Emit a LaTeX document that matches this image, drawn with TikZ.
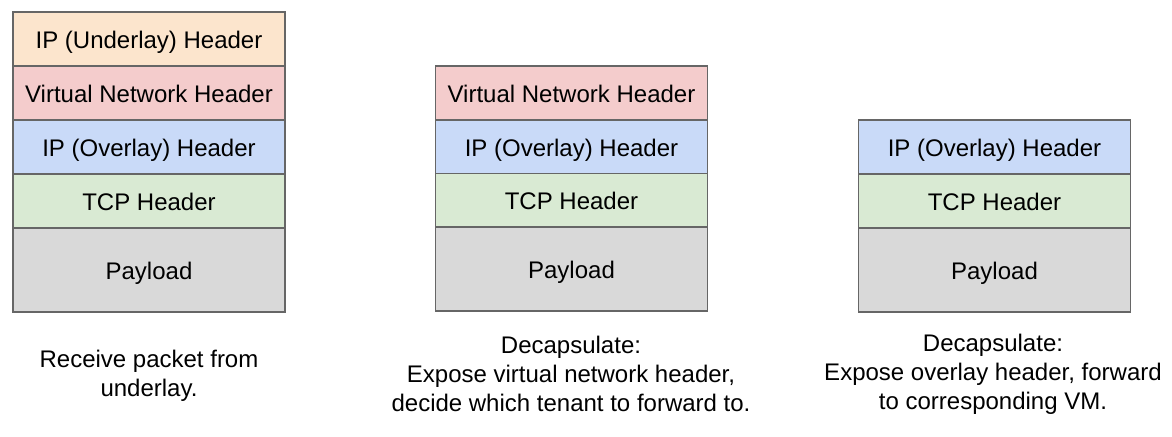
\documentclass[tikz,border=0pt]{standalone}
\usepackage{fontspec}
\setmainfont{Liberation Sans}
\definecolor{cUnder}{HTML}{FCE5CD}
\definecolor{cVirt}{HTML}{F4CCCC}
\definecolor{cOver}{HTML}{C9DAF8}
\definecolor{cTcp}{HTML}{D9EAD3}
\definecolor{cPay}{HTML}{D9D9D9}
\definecolor{cLine}{HTML}{666666}
\begin{document}
\begin{tikzpicture}[x=0.75pt,y=-0.75pt,
  layer/.style={draw=cLine,line width=1pt,minimum width=204pt,minimum height=40.5pt,inner sep=0pt,
     text height=13.6pt,text depth=0pt,
     font=\fontsize{18}{21.75}\selectfont,text=black},
  paylayer/.style={layer,minimum height=63pt},
  caption/.style={align=center,inner sep=0pt,font=\fontsize{18}{21.75}\selectfont}]
\useasboundingbox (0,0) rectangle (1172,436);
% stack 1
\node[layer,fill=cUnder] (a1) at (149,39) {IP (Underlay) Header};
\node[layer,fill=cVirt] (a2) at (149,93) {Virtual Network Header};
\node[layer,fill=cOver] (a3) at (149,147) {IP (Overlay) Header};
\node[layer,fill=cTcp] (a4) at (149,201) {TCP Header};
\node[paylayer,fill=cPay] (a5) at (149,270) {Payload};
\node[caption] (ca) at (149,376) {Receive packet from\\underlay.};
% stack 2
\node[layer,fill=cVirt] (b2) at (571.5,93) {Virtual Network Header};
\node[layer,fill=cOver] (b3) at (571.5,147) {IP (Overlay) Header};
\node[layer,fill=cTcp] (b4) at (571.5,200.5) {TCP Header};
\node[paylayer,fill=cPay] (b5) at (571.5,269) {Payload};
\node[caption] (cb) at (571,374) {Decapsulate:\\Expose virtual network header,\\decide which tenant to forward to.};
% stack 3
\node[layer,fill=cOver] (c3) at (994.5,147) {IP (Overlay) Header};
\node[layer,fill=cTcp] (c4) at (994.5,201) {TCP Header};
\node[paylayer,fill=cPay] (c5) at (994.5,270) {Payload};
\node[caption] (cc) at (993,374) {Decapsulate:\\Expose overlay header, forward\\to corresponding VM.};
\end{tikzpicture}
\end{document}
